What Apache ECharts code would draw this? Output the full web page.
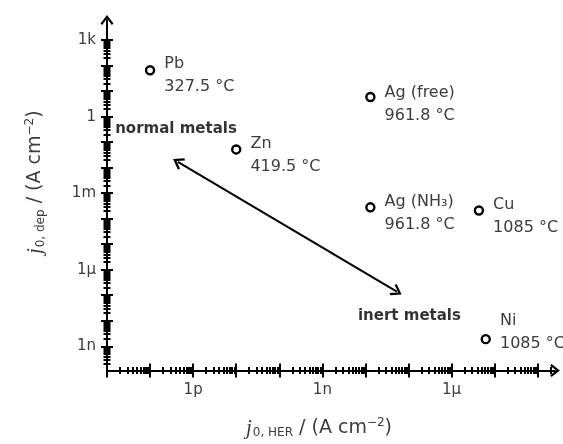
<!DOCTYPE html>
<html><head><meta charset="utf-8">
<script src="https://cdn.jsdelivr.net/npm/echarts@6/dist/echarts.min.js"></script>
<style>html,body{margin:0;padding:0;background:#fff}#c{width:563px;height:444px}</style>
</head><body><div id="c"></div>
<script>
// ---- data ----
const metals = ['Pb', 'Zn', 'Ag (free)', 'Ag (NH₃)', 'Cu', 'Ni'];
const meltingPoints = ['327.5 °C', '419.5 °C', '961.8 °C', '961.8 °C', '1085 °C', '1085 °C'];
const j0HER = [1e-13, 1e-11, 1.3e-8, 1.3e-8, 4.3e-6, 6.2e-6];
const j0dep = [66, 0.052, 5.9, 2.8e-4, 2.1e-4, 1.9e-9];
const xTickLabels = { '-12': '1p', '-9': '1n', '-6': '1µ' };
const yTickLabels = { '-9': '1n', '-6': '1µ', '-3': '1m', '0': '1', '3': '1k' };
const annotations = ['normal metals', 'inert metals'];
const annotationX = [4.0e-13, 1.05e-7];
const annotationY = [0.34, 1.5e-8];
const arrowStart = [4.4e-13, 0.0169];
const arrowEnd = [5.35e-8, 1.38e-7];

// ---- axis ranges ----
const X_MIN = 0.99999e-14, X_MAX = Math.pow(10, -3.6), X_TICK_MAX = 2.5e-4;
const Y_MIN = Math.pow(10, -9.95), Y_MAX = Math.pow(10, 3.79), Y_TICK_MAX = 1.0001e3;

function majorTicks(lo, hi) {
  const out = [];
  for (let d = Math.floor(Math.log10(lo)) - 1; d <= Math.ceil(Math.log10(hi)); d++) {
    const v = Math.pow(10, d);
    if (v >= lo && v <= hi) out.push(v);
  }
  return out;
}
function minorTicks(lo, hi) {
  const out = [];
  for (let d = Math.floor(Math.log10(lo)) - 1; d <= Math.ceil(Math.log10(hi)); d++) {
    for (let k = 2; k <= 9; k++) {
      const v = k * Math.pow(10, d);
      if (v > lo && v < hi) out.push(v);
    }
  }
  return out;
}
const xMajor = majorTicks(X_MIN, X_TICK_MAX), xMinor = minorTicks(X_MIN, X_TICK_MAX);
const yMajor = majorTicks(Y_MIN, Y_TICK_MAX), yMinor = minorTicks(Y_MIN, Y_TICK_MAX);

const INK = '#000';
const TXT = '#3c3c3c';
const chevron = 'path://M0,0 L7,9 L5.2,10.6 L0,3.8 L-5.2,10.6 L-7,9 Z';
const labelOffsets = { 'Pb': [0, 5], 'Zn': [0, 6], 'Ag (free)': [0, 7], 'Ag (NH₃)': [0, 6], 'Cu': [0, 6], 'Ni': [0, -7] };

function expKey(v) { return String(Math.round(Math.log10(v))); }

function mkAxis(dim, opts) {
  const isX = dim === 'x';
  const base = {
    type: 'log', logBase: 10,
    min: isX ? X_MIN : Y_MIN, max: isX ? X_MAX : Y_MAX,
    position: isX ? 'bottom' : 'left',
    splitLine: { show: false }, minorTick: { show: false }, minorSplitLine: { show: false },
    axisLine: { show: false, onZero: false },
    axisLabel: { show: false },
    axisTick: { show: true, customValues: opts.ticks, length: opts.len, inside: opts.inside,
      lineStyle: { color: INK, width: 2 } },
    axisPointer: { show: false }
  };
  return Object.assign(base, opts.extra || {});
}

const titleRich = {
  i: { fontFamily: 'Liberation Serif', fontStyle: 'italic', fontSize: 21, color: TXT },
  s: { fontFamily: 'DejaVu Sans', fontSize: 12, color: TXT, padding: [10, 0, 0, 1] },
  n: { fontFamily: 'DejaVu Sans', fontSize: 19, color: TXT },
  p: { fontFamily: 'DejaVu Sans', fontSize: 12, color: TXT, padding: [0, 0, 11, 0] }
};

const xAxes = [
  mkAxis('x', { ticks: xMajor, len: 7, inside: false, extra: {
    axisLine: { show: true, onZero: false, symbol: ['none', chevron], symbolSize: [13, 11],
      lineStyle: { color: INK, width: 2 } },
    axisLabel: { show: true, customValues: [1e-12, 1e-9, 1e-6], margin: 12,
      fontFamily: 'DejaVu Sans', fontSize: 15, color: TXT,
      formatter: v => xTickLabels[expKey(v)] || '' },
    name: '{i|j}{s|0, HER}{n| / (A cm}{p|−2}{n|)}',
    nameLocation: 'middle', nameGap: 46,
    nameTextStyle: { rich: titleRich, padding: [0, 24, 0, 0] }
  } }),
  mkAxis('x', { ticks: xMajor, len: 7, inside: true }),
  mkAxis('x', { ticks: xMinor, len: 3.5, inside: false }),
  mkAxis('x', { ticks: xMinor, len: 3.5, inside: true })
];
const yAxes = [
  mkAxis('y', { ticks: yMajor, len: 6, inside: false, extra: {
    axisLine: { show: true, onZero: false, symbol: ['none', chevron], symbolSize: [13, 11],
      lineStyle: { color: INK, width: 2 } },
    axisLabel: { show: true, customValues: [1e-9, 1e-6, 1e-3, 1, 1e3], margin: 11,
      fontFamily: 'DejaVu Sans', fontSize: 15, color: TXT,
      formatter: v => yTickLabels[expKey(v)] || '' },
    name: '{i|j}{s|0, dep}{n| / (A cm}{p|−2}{n|)}',
    nameLocation: 'middle', nameGap: 60, nameRotate: 90,
    nameTextStyle: { rich: titleRich, padding: [0, 0, 0, 26] }
  } }),
  mkAxis('y', { ticks: yMajor, len: 6, inside: true }),
  mkAxis('y', { ticks: yMinor, len: 3.5, inside: false }),
  mkAxis('y', { ticks: yMinor, len: 3.5, inside: true })
];

const pointData = metals.map((m, i) => ({
  name: m,
  value: [j0HER[i], j0dep[i]],
  label: { offset: labelOffsets[m] || [0, 0] }
}));

const annData = annotations.map((a, i) => ({ name: a, value: [annotationX[i], annotationY[i]] }));

const option = {
  animation: false,
  backgroundColor: '#fff',
  grid: { left: 107, right: 8, top: 20, bottom: 69, containLabel: false },
  xAxis: xAxes,
  yAxis: yAxes,
  series: [
    {
      type: 'scatter', xAxisIndex: 0, yAxisIndex: 0,
      symbol: 'circle', symbolSize: 8,
      itemStyle: { color: '#fff', borderColor: INK, borderWidth: 2.4, opacity: 1 },
      label: {
        show: true, position: 'right', distance: 9,
        formatter: p => '{n|' + p.name + '}\n{n|' + meltingPoints[p.dataIndex] + '}',
        rich: { n: { fontFamily: 'DejaVu Sans', fontSize: 16, color: TXT, lineHeight: 23 } }
      },
      data: pointData,
      z: 5
    },
    {
      type: 'scatter', xAxisIndex: 0, yAxisIndex: 0,
      symbolSize: 0,
      label: { show: true, position: 'inside', formatter: p => p.name,
        fontFamily: 'DejaVu Sans', fontWeight: 'bold', fontSize: 15, color: '#000' },
      data: annData,
      markLine: {
        silent: true, animation: false,
        symbol: [chevron, chevron], symbolSize: [13, 11],
        lineStyle: { color: INK, width: 2, type: 'solid' },
        itemStyle: { color: INK },
        label: { show: false },
        emphasis: { disabled: true },
        data: [[{ coord: arrowStart }, { coord: arrowEnd }]]
      },
      z: 4
    }
  ]
};

const chart = echarts.init(document.getElementById('c'), null, { renderer: 'canvas' });
chart.setOption(option);
</script>
</body></html>
